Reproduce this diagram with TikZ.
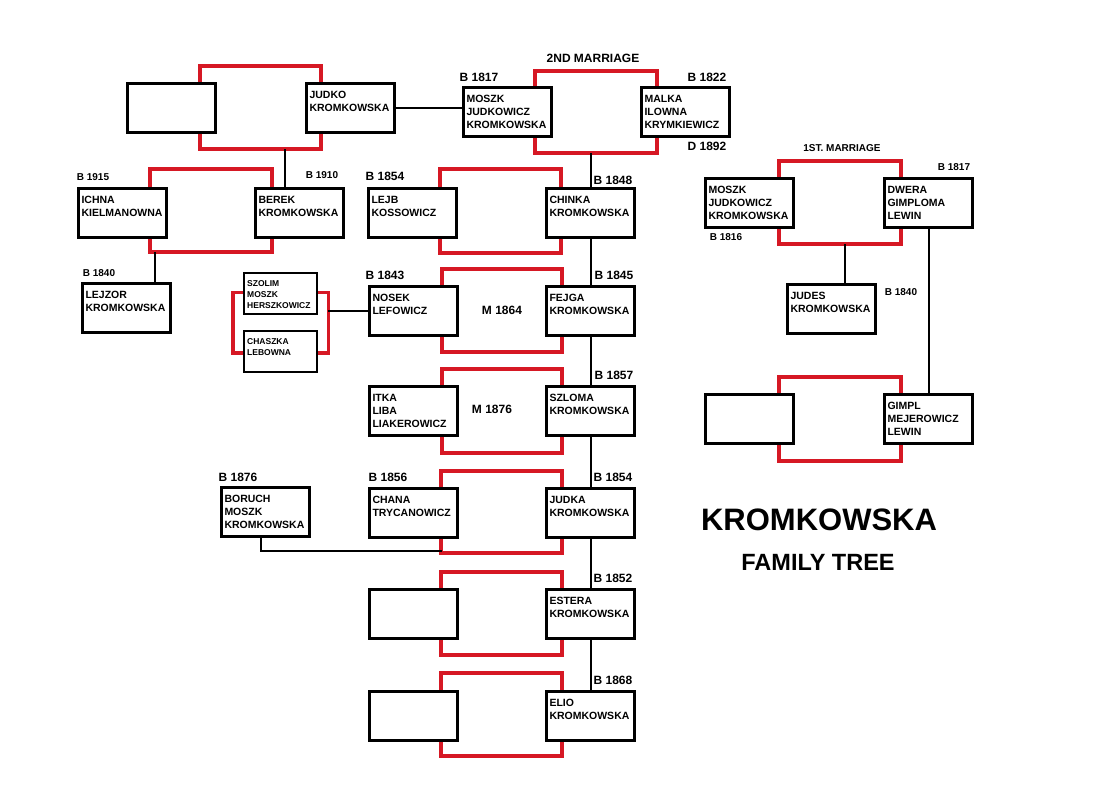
\documentclass[tikz,border=0pt]{standalone}
\usepackage{fontspec}
\setmainfont{Liberation Sans}
\usetikzlibrary{backgrounds}
\definecolor{marriagered}{RGB}{214,24,36}
\newcommand\namefont{\bfseries\fontsize{10.5}{13.3}\selectfont}
\newcommand\smallnamefont{\bfseries\fontsize{8.5}{11}\selectfont}
\tikzset{
  person/.style={draw, line width=3pt, fill=white, anchor=north west, inner sep=0pt,
    minimum width=88pt, minimum height=49pt, font=\namefont,
    execute at begin node={\begin{minipage}[t][34pt][t]{82pt}},
    execute at end node={\end{minipage}}},
  smallperson/.style={draw, line width=2.4pt, fill=white, anchor=north west, inner sep=0pt,
    minimum width=73pt, minimum height=41pt, font=\smallnamefont,
    execute at begin node={\begin{minipage}[t][27pt][t]{67pt}},
    execute at end node={\end{minipage}}},
  marriage/.style={draw=marriagered, line width=3.4pt},
  descent/.style={draw, line width=2pt},
  yearlabel/.style={font=\bfseries\fontsize{12}{14}\selectfont, inner sep=0pt},
  yearsmall/.style={font=\bfseries\fontsize{10}{12}\selectfont, inner sep=0pt}
}
\begin{document}
\begin{tikzpicture}[x=1pt, y=-1pt]
  \useasboundingbox (0,0) rectangle (1100,799);
  % top row
  \node[person] (blanka) at (126,82) {};
  \node[person] (judko) at (305,82) {JUDKO\\KROMKOWSKA};
  \node[person] (moszkb) at (462,86) {MOSZK\\JUDKOWICZ\\KROMKOWSKA};
  \node[person] (malka) at (640,86) {MALKA\\ILOWNA\\KRYMKIEWICZ};
  % second row
  \node[person] (ichna) at (77,187) {ICHNA\\KIELMANOWNA};
  \node[person] (berek) at (254,187) {BEREK\\KROMKOWSKA};
  \node[person] (lejb) at (367,187) {LEJB\\KOSSOWICZ};
  \node[person] (chinka) at (545,187) {CHINKA\\KROMKOWSKA};
  \node[person] (lejzor) at (81,282) {LEJZOR\\KROMKOWSKA};
  \node[smallperson] (szolim) at (243,272) {SZOLIM\\MOSZK\\HERSZKOWICZ};
  \node[smallperson] (chaszka) at (243,330) {CHASZKA\\LEBOWNA};
  \node[person] (nosek) at (368,285) {NOSEK\\LEFOWICZ};
  \node[person] (fejga) at (545,285) {FEJGA\\KROMKOWSKA};
  \node[person] (itka) at (368,385) {ITKA\\LIBA\\LIAKEROWICZ};
  \node[person] (szloma) at (545,385) {SZLOMA\\KROMKOWSKA};
  \node[person] (boruch) at (220,486) {BORUCH\\MOSZK\\KROMKOWSKA};
  \node[person] (chana) at (368,487) {CHANA\\TRYCANOWICZ};
  \node[person] (judka) at (545,487) {JUDKA\\KROMKOWSKA};
  \node[person] (blankc) at (368,588) {};
  \node[person] (estera) at (545,588) {ESTERA\\KROMKOWSKA};
  \node[person] (blankd) at (368,690) {};
  \node[person] (elio) at (545,690) {ELIO\\KROMKOWSKA};
  % first marriage
  \node[person] (moszka) at (704,177) {MOSZK\\JUDKOWICZ\\KROMKOWSKA};
  \node[person] (dwera) at (883,177) {DWERA\\GIMPLOMA\\LEWIN};
  \node[person] (judes) at (786,283) {JUDES\\KROMKOWSKA};
  \node[person] (blankb) at (704,393) {};
  \node[person] (gimpl) at (883,393) {GIMPL\\MEJEROWICZ\\LEWIN};

  \begin{scope}[on background layer]
    \draw[marriage] ([shift={(-17,-16)}]blanka.north east) rectangle ([shift={(16,15)}]judko.south west) coordinate (ma);
    \draw[marriage] ([shift={(-18,-15)}]moszkb.north east) rectangle ([shift={(17,15)}]malka.south west) coordinate (mb);
    \draw[marriage] ([shift={(-18,-18)}]ichna.north east) rectangle ([shift={(18,13)}]berek.south west) coordinate (mc);
    \draw[marriage] ([shift={(-18,-18)}]lejb.north east) rectangle ([shift={(16,14)}]chinka.south west) coordinate (md);
    \draw[marriage] ([shift={(-10,-23)}]szolim.south west) rectangle ([shift={(10,23)}]chaszka.north east) coordinate (me);
    \draw[marriage] ([shift={(-17,-16)}]nosek.north east) rectangle ([shift={(17,15)}]fejga.south west) coordinate (mf);
    \draw[marriage] ([shift={(-17,-16)}]itka.north east) rectangle ([shift={(17,16)}]szloma.south west) coordinate (mg);
    \draw[marriage] ([shift={(-18,-16)}]chana.north east) rectangle ([shift={(17,14)}]judka.south west) coordinate (mh);
    \draw[marriage] ([shift={(-18,-16)}]blankc.north east) rectangle ([shift={(17,15)}]estera.south west) coordinate (mi);
    \draw[marriage] ([shift={(-18,-17)}]blankd.north east) rectangle ([shift={(17,14)}]elio.south west) coordinate (mj);
    \draw[marriage] ([shift={(-16,-16)}]moszka.north east) rectangle ([shift={(18,15)}]dwera.south west) coordinate (mk);
    \draw[marriage] ([shift={(-16,-16)}]blankb.north east) rectangle ([shift={(18,16)}]gimpl.south west) coordinate (ml);
  \end{scope}

  % lines of descent
  \draw[descent] (judko.east) -- (judko.east -| moszkb.west);
  \draw[descent] ([xshift=-15pt]berek.north) -- ([xshift=-15pt]berek.north |- ma);
  \draw[descent] ([xshift=28pt]lejzor.north) -- ([xshift=28pt]lejzor.north |- mc);
  \draw[descent] (chinka.north) -- (chinka.north |- mb);
  \draw[descent] (chinka.south) -- (fejga.north);
  \draw[descent] (fejga.south) -- (szloma.north);
  \draw[descent] (szloma.south) -- (judka.north);
  \draw[descent] (judka.south) -- (estera.north);
  \draw[descent] (estera.south) -- (elio.north);
  \draw[descent] (nosek.west) -- (nosek.west -| me);
  \draw[descent] ([xshift=-5pt]boruch.south) |- ([shift={(-17,12)}]chana.south east);
  \draw[descent] ([xshift=13pt]judes.north) -- ([xshift=13pt]judes.north |- mk);
  \draw[descent] (dwera.south) -- (gimpl.north);

  % dates and headings
  \node[yearlabel] (secondm) at (593,58) {2ND MARRIAGE};
  \node[yearlabel] (bmoszkb) at (479,77) {B 1817};
  \node[yearlabel] (bmalka) at (707,77) {B 1822};
  \node[yearlabel] (dmalka) at (707,146) {D 1892};
  \node[yearsmall] (bichna) at (93,177) {B 1915};
  \node[yearsmall] (bberek) at (322,175) {B 1910};
  \node[yearlabel] (blejb) at (385,176) {B 1854};
  \node[yearlabel] (bchinka) at (613,180) {B 1848};
  \node[yearsmall] (blejzor) at (99,273) {B 1840};
  \node[yearlabel] (bnosek) at (385,275) {B 1843};
  \node[yearlabel] (bfejga) at (614,275) {B 1845};
  \node[yearlabel] (mnosek) at (502,310) {M 1864};
  \node[yearlabel] (bszloma) at (614,375) {B 1857};
  \node[yearlabel] (mitka) at (492,409) {M 1876};
  \node[yearlabel] (bboruch) at (238,477) {B 1876};
  \node[yearlabel] (bchana) at (388,477) {B 1856};
  \node[yearlabel] (bjudka) at (613,477) {B 1854};
  \node[yearlabel] (bestera) at (613,578) {B 1852};
  \node[yearlabel] (belio) at (613,680) {B 1868};
  \node[yearsmall] (firstm) at (842,148) {1ST. MARRIAGE};
  \node[yearsmall] (bdwera) at (954,167) {B 1817};
  \node[yearsmall] (bmoszka) at (726,237) {B 1816};
  \node[yearsmall] (bjudes) at (901,292) {B 1840};
  \node[font=\bfseries\fontsize{31}{36}\selectfont] (title) at (819,520) {KROMKOWSKA};
  \node[font=\bfseries\fontsize{23.5}{28}\selectfont] (subtitle) at (818,562) {FAMILY TREE};
\end{tikzpicture}
\end{document}
